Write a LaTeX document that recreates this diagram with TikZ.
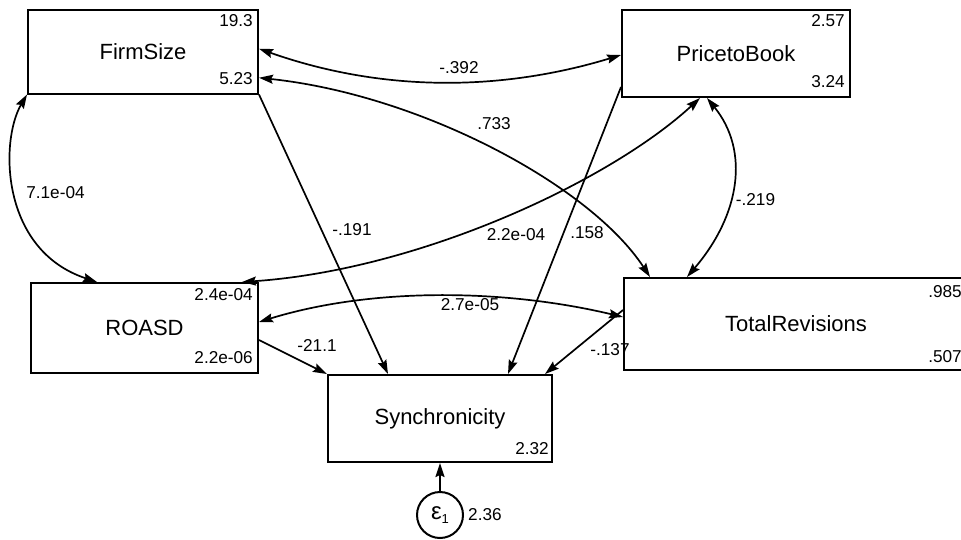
\documentclass[tikz,border=0pt]{standalone}
\usepackage{fontspec}
\setmainfont{Liberation Sans}
\usetikzlibrary{arrows.meta}
\begin{document}
\begin{tikzpicture}[x=1pt,y=1pt,
  varbox/.style={draw, line width=2pt, inner sep=0pt,
    font=\fontsize{22}{26}\selectfont},
  errcirc/.style={draw, circle, line width=2pt, inner sep=0pt, minimum size=46pt},
  num/.style={inner sep=0pt, font=\fontsize{17.2}{20}\selectfont},
  path/.style={line width=1.7pt, -{Stealth[length=14pt,width=9pt,inset=2pt]}},
  cov/.style={line width=1.7pt, {Stealth[length=14pt,width=9pt,inset=2pt]}-{Stealth[length=14pt,width=9pt,inset=2pt]}}
]
\fill[white] (0,0) rectangle (961,-539);
\useasboundingbox (0,0) rectangle (961,-539);

% observed variables
\node[varbox, minimum width=230pt, minimum height=83.5pt] (firm) at (143,-51.75) {FirmSize};
\node[varbox, minimum width=228pt, minimum height=87pt] (ptb) at (736,-53.5) {PricetoBook};
\node[varbox, minimum width=227pt, minimum height=90pt] (roasd) at (144.5,-328) {ROASD};
\node[varbox, minimum width=344pt, minimum height=92pt] (totrev) at (796,-324) {TotalRevisions};
\node[varbox, minimum width=224pt, minimum height=87pt] (synch) at (440,-418.5) {Synchronicity};
\node[errcirc] (eps) at (440,-515) {\fontsize{24}{26}\selectfont ε\raisebox{-0.35ex}{\fontsize{13}{14}\selectfont 1}};

% means and variances
\node[num, anchor=east] (firmv) at (253,-21) {19.3};
\node[num, anchor=east] (firmm) at (253,-79) {5.23};
\node[num, anchor=east] (ptbv) at (845,-21) {2.57};
\node[num, anchor=east] (ptbm) at (845,-82) {3.24};
\node[num, anchor=east] (roasdv) at (253,-295) {2.4e-04};
\node[num, anchor=east] (roasdm) at (253,-358) {2.2e-06};
\node[num, anchor=east] (totrevv) at (962,-292) {.985};
\node[num, anchor=east] (totrevm) at (962,-357) {.507};
\node[num, anchor=east] (synchc) at (549,-449) {2.32};
\node[num, anchor=west] (epsv) at (468,-515) {2.36};

% covariances
\draw[cov] ([yshift=3pt]firm.east) .. controls +(122,-43) and +(-122,-37) .. ([yshift=-1.5pt]ptb.west);
\draw[cov] ([yshift=-26pt]firm.east) .. controls +(161,-17) and +(-60,92) .. ([xshift=-146pt]totrev.north);
\draw[cov] (firm.south west) .. controls +(-27,-46) and +(-97,32) .. ([xshift=-47.5pt]roasd.north);
\draw[cov] ([xshift=97.5pt]roasd.north) .. controls +(178,12) and +(-90,-83) .. ([xshift=-36pt]ptb.south);
\draw[cov] ([xshift=-29pt]ptb.south) .. controls +(43,-53) and +(53,62) .. ([xshift=-109pt]totrev.north);
\draw[cov] ([yshift=6pt]roasd.east) .. controls +(110,34) and +(-122,29) .. ([yshift=7pt]totrev.west);

% structural paths
\draw[path] (firm.south east) -- ([xshift=-52pt]synch.north);
\draw[path] ([yshift=-33.5pt]ptb.west) -- ([xshift=68pt]synch.north);
\draw[path] ([yshift=-12pt]roasd.east) -- (synch.north west);
\draw[path] ([yshift=14pt]totrev.west) -- ([xshift=105pt]synch.north);
\draw[path] (eps.north) -- (synch.south);

% coefficients
\node[num] (c392) at (459,-68) {-.392};
\node[num] (c733) at (494,-124) {.733};
\node[num] (c71e) at (55.5,-193) {7.1e-04};
\node[num] (c191) at (352,-230) {-.191};
\node[num] (c22e) at (516,-235) {2.2e-04};
\node[num] (c158) at (587,-233) {.158};
\node[num] (c219) at (755.5,-200) {-.219};
\node[num] (c27e) at (470,-305) {2.7e-05};
\node[num] (c211) at (317,-345) {-21.1};
\node[num] (c137) at (610,-350) {-.137};
\end{tikzpicture}
\end{document}
